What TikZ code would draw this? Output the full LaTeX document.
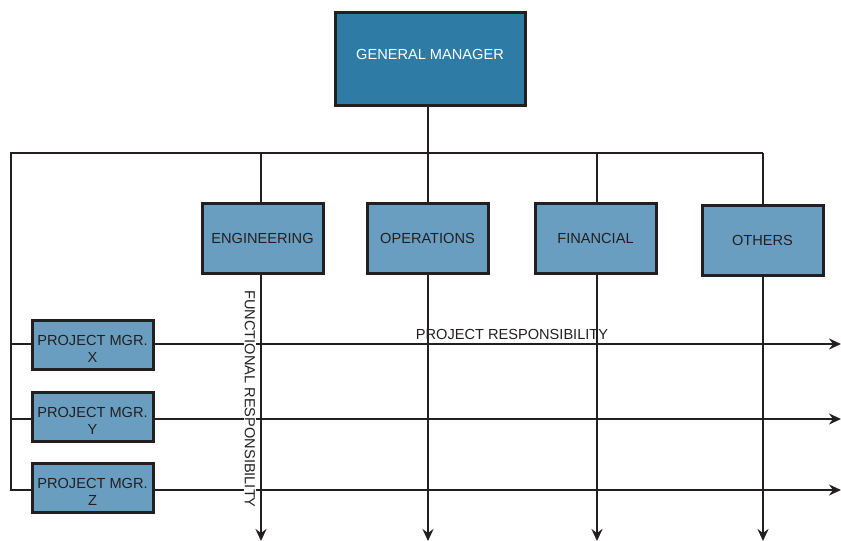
\documentclass[tikz,border=0pt]{standalone}
\usepackage{fontspec}
\setmainfont{Liberation Sans}
\usetikzlibrary{arrows.meta}
\definecolor{gmblue}{HTML}{2E7CA6}
\definecolor{boxblue}{HTML}{6A9EC0}
\definecolor{ink}{HTML}{231F20}
\newcommand{\pmtext}[1]{\raisebox{-4pt}[\height][\depth]{\vbox{\halign{\hfil##\hfil\cr PROJECT MGR.\cr #1\cr}}}}
\tikzset{
  txt/.style={font=\fontsize{14.6}{17}\selectfont},
  base/.style={draw=ink, line width=3pt, text=ink, txt, align=center, inner sep=0pt},
  gmbox/.style={base, fill=gmblue, text=white, minimum width=190pt, minimum height=93pt},
  deptbox/.style={base, fill=boxblue, minimum width=121pt, minimum height=70pt},
  pmbox/.style={base, fill=boxblue, minimum width=121pt, minimum height=49pt},
  wire/.style={draw=ink, line width=2.5pt},
  arr/.style={wire, -{Stealth[length=12pt,width=11pt,inset=4pt]}},
}
\begin{document}
\begin{tikzpicture}[x=1pt,y=-1pt]
\useasboundingbox (0,0) rectangle (841,541);
% coordinates
\coordinate (bL) at (11,153);
\coordinate (bR) at (763,153);
\coordinate (gmb) at (428,153);
% nodes
\node[gmbox] (gm) at (430,58.5) {\raisebox{4pt}[\height][\depth]{GENERAL MANAGER}};
\node[deptbox] (eng) at (262.5,238) {ENGINEERING};
\node[deptbox] (ops) at (427.5,238) {OPERATIONS};
\node[deptbox] (fin) at (595.5,238) {FINANCIAL};
\node[deptbox] (oth) at (762.5,240) {OTHERS};
\node[pmbox] (pmx) at (92.5,345) {\pmtext{X}};
\node[pmbox] (pmy) at (92.5,416.5) {\pmtext{Y}};
\node[pmbox] (pmz) at (92.5,487.5) {\pmtext{Z}};
% free ends
\coordinate (ex) at (841,344);
\coordinate (ey) at (841,419);
\coordinate (ez) at (841,490);
\coordinate (lx) at (11,344);
\coordinate (ly) at (11,419);
\coordinate (lz) at (11,490);
\coordinate (de) at (261,541);
\coordinate (do) at (428,541);
\coordinate (df) at (597,541);
\coordinate (dh) at (763,541);
% top tree
\draw[wire] (gm.south -| gmb) -- (gmb);
\draw[wire] (bR) -- (bL) -- (lz) -- (pmz.west |- lz);
\draw[wire] (ly) -- (pmy.west |- ly);
\draw[wire] (lx) -- (pmx.west |- lx);
\draw[wire] (bR |- bL) -- (oth.north -| bR);
\draw[wire] (de |- bL) -- (eng.north -| de);
\draw[wire] (do |- bL) -- (ops.north -| do);
\draw[wire] (df |- bL) -- (fin.north -| df);
% project responsibility lines
\draw[arr] (pmx.east |- ex) -- (ex);
\draw[arr] (pmy.east |- ey) -- (ey);
\draw[arr] (pmz.east |- ez) -- (ez);
% functional lines
\draw[arr] (eng.south -| de) -- (de);
\draw[arr] (ops.south -| do) -- (do);
\draw[arr] (fin.south -| df) -- (df);
\draw[arr] (oth.south -| dh) -- (dh);
% labels
\node[fill=white, inner sep=1pt, text=ink, txt, rotate=-90] (fr) at (250,399) {FUNCTIONAL RESPONSIBILITY};
\node[text=ink, txt, inner sep=0pt] (pr) at (512,334) {PROJECT RESPONSIBILITY};
\end{tikzpicture}
\end{document}
